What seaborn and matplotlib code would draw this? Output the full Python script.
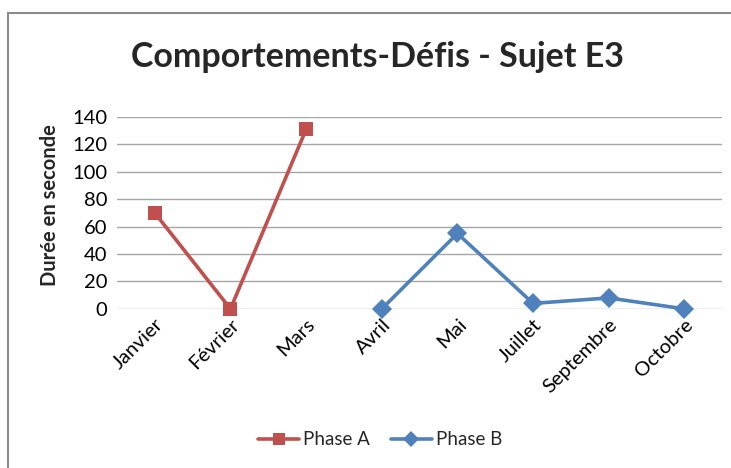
import pandas as pd
import matplotlib.pyplot as plt
import seaborn as sns
from matplotlib.patches import Rectangle


# ---------------- DATA ----------------

months_a = ["Janvier", "Février", "Mars"]
values_a = [70, 0, 131]

months_b = ["Avril", "Mai", "Juillet", "Septembre", "Octobre"]
values_b = [0, 55, 4, 8, 0]

y_ticks = [0, 20, 40, 60, 80, 100, 120, 140]

RED = "#C0504D"
BLUE = "#4F81BD"
FONT = ["Lato", "DejaVu Sans"]


df = pd.concat([
    pd.DataFrame({"mois": months_a, "duree": values_a, "phase": "Phase A"}),
    pd.DataFrame({"mois": months_b, "duree": values_b, "phase": "Phase B"}),
], ignore_index=True)


# ---------------- PLOT ----------------

sns.set_theme(style="white")
plt.rcParams["font.family"] = FONT

fig = plt.figure(figsize=(7.31, 4.68), dpi=100)
ax = fig.add_axes([0.160, 0.340, 0.828, 0.410])

sns.lineplot(
    data=df, x="mois", y="duree", hue="phase", style="phase",
    palette={"Phase A": RED, "Phase B": BLUE},
    markers={"Phase A": "s", "Phase B": "D"}, dashes=False,
    sort=False, linewidth=2.6, markersize=10, markeredgewidth=0,
    ax=ax,
)

for line in ax.lines:
    line.set_clip_on(False)

ax.set_xlim(-0.5, 7.5)
ax.set_ylim(0, 140)
ax.set_yticks(y_ticks)
ax.yaxis.grid(True, color="#A6A6A6", linewidth=1)
ax.set_axisbelow(True)
for s in ax.spines.values():
    s.set_visible(False)

ax.tick_params(axis="both", length=0, labelsize=14.5, colors="black")
ax.tick_params(axis="y", pad=7)
ax.tick_params(axis="x", pad=5)
plt.setp(ax.get_xticklabels(), rotation=45, ha="right", rotation_mode="anchor")

ax.set_xlabel("")
ax.set_ylabel("Durée en seconde", fontsize=14.5, fontweight="bold")
ax.yaxis.set_label_coords(-0.094, 0.54)

fig.text(0.516, 0.878, "Comportements-Défis - Sujet E3", ha="center", va="center",
         fontsize=24.5, fontweight="bold")

sns.move_legend(ax, "center", bbox_to_anchor=(0.52, 0.06), bbox_transform=fig.transFigure,
                ncol=2, frameon=False, title=None, fontsize=13.5, markerscale=0.8,
                handlelength=2.2, columnspacing=1.1, handletextpad=0.2)

fig.patches.append(Rectangle((8 / 731, -0.1), 1.2, 1 - 13 / 468 + 0.1,
                             transform=fig.transFigure, fill=False,
                             edgecolor="#8C8C8C", linewidth=1.5))

fig.savefig("out.png", dpi=100)
